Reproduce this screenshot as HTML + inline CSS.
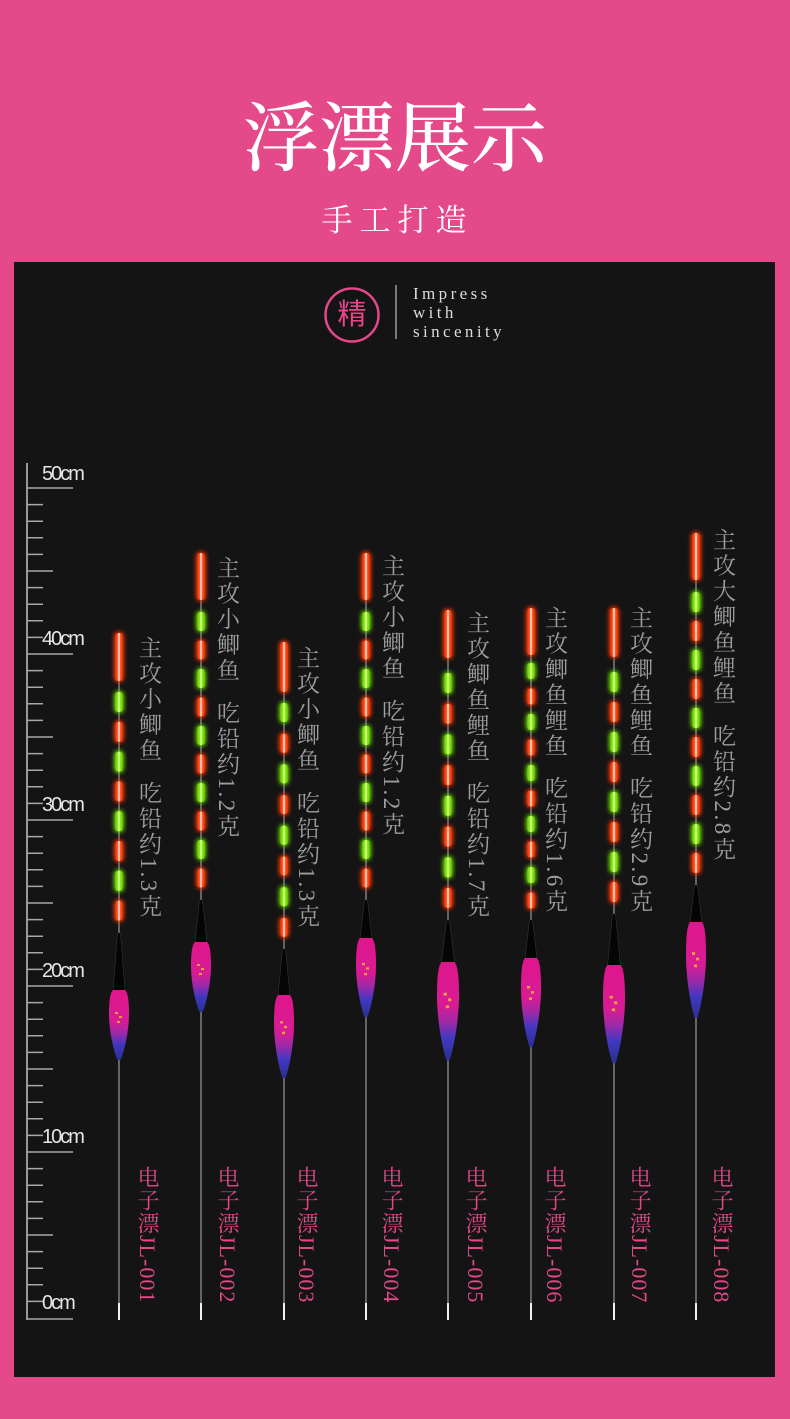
<!DOCTYPE html>
<html><head><meta charset="utf-8">
<style>
html,body{margin:0;padding:0;}
body{width:790px;height:1419px;background:#e44a89;position:relative;overflow:hidden;}
.panel{position:absolute;left:14px;top:262px;width:761px;height:1115px;background:#141414;}
.title{position:absolute;left:0;top:102px;width:790px;text-align:center;font-family:"Liberation Serif","Noto Serif CJK SC",serif;font-size:76px;line-height:76px;color:#fff;font-weight:500;}
.sub{position:absolute;left:0;top:205px;width:790px;text-align:center;font-family:"Liberation Serif","Noto Serif CJK SC",serif;font-size:31px;line-height:31px;color:#fff;letter-spacing:7px;padding-left:5px;box-sizing:border-box;}
.jing{position:absolute;left:325px;top:288px;width:54px;height:54px;text-align:center;font-family:"Liberation Sans","Noto Sans CJK SC",sans-serif;font-size:29px;line-height:54px;color:#e4478a;}
.eng{position:absolute;left:413px;top:284px;font-family:"Liberation Serif",serif;font-size:17px;line-height:19px;letter-spacing:3.4px;color:#dcdcdc;}
.t{position:absolute;writing-mode:vertical-rl;text-orientation:mixed;font-family:"Liberation Serif","Noto Serif CJK SC",serif;font-size:23px;letter-spacing:2.5px;color:#9d9d9d;line-height:24px;width:24px;white-space:nowrap;}
.t .g{margin-inline-start:17px;}
.l{position:absolute;writing-mode:vertical-rl;text-orientation:mixed;font-family:"Liberation Serif","Noto Serif CJK SC",serif;font-size:22px;letter-spacing:1px;color:#e4478a;line-height:24px;width:24px;white-space:nowrap;top:1166px;}
</style></head>
<body>
<div class="title">浮漂展示</div>
<div class="sub">手工打造</div>
<div class="panel"></div>

<svg width="790" height="1419" style="position:absolute;left:0;top:0" xmlns="http://www.w3.org/2000/svg">
<defs>
<filter id="glow" x="-300%" y="-20%" width="700%" height="140%">
<feGaussianBlur in="SourceGraphic" stdDeviation="2.6" result="b"/>
<feMerge><feMergeNode in="b"/><feMergeNode in="b"/><feMergeNode in="SourceGraphic"/></feMerge>
</filter>
<linearGradient id="bg" x1="0" y1="0" x2="0" y2="1">
<stop offset="0" stop-color="#e0168c"/>
<stop offset="0.45" stop-color="#d81b94"/>
<stop offset="0.62" stop-color="#9a2aa8"/>
<stop offset="0.78" stop-color="#4038c0"/>
<stop offset="1" stop-color="#2a3090"/>
</linearGradient>
<g id="body">
<path d="M-6,0 C-9,3 -10,11 -10,24 C-10,42 -5,62 -1.5,70 L1.5,70 C5,62 10,42 10,24 C10,11 9,3 6,0 Z" fill="url(#bg)"/>
<rect x="-4" y="22" width="3" height="2" fill="#f0a040"/>
<rect x="0" y="26" width="3" height="2" fill="#f0a040"/>
<rect x="-2" y="31" width="3" height="2" fill="#f0a040"/>
</g>
<g id="a1r"><rect x="-3.5" y="633" width="7" height="48" rx="2.5"/><rect x="-3.5" y="721.8" width="7" height="20" rx="2.5"/><rect x="-3.5" y="781.4" width="7" height="20" rx="2.5"/><rect x="-3.5" y="841" width="7" height="20" rx="2.5"/><rect x="-3.5" y="900.6" width="7" height="20" rx="2.5"/></g>
<g id="a1g"><rect x="-3.5" y="692" width="7" height="20" rx="2.5"/><rect x="-3.5" y="751.6" width="7" height="20" rx="2.5"/><rect x="-3.5" y="811.2" width="7" height="20" rx="2.5"/><rect x="-3.5" y="870.8" width="7" height="20" rx="2.5"/></g>
<g id="a2r"><rect x="-3.5" y="553" width="7" height="47" rx="2.5"/><rect x="-3.5" y="640.5" width="7" height="19" rx="2.5"/><rect x="-3.5" y="697.5" width="7" height="19" rx="2.5"/><rect x="-3.5" y="754.5" width="7" height="19" rx="2.5"/><rect x="-3.5" y="811.5" width="7" height="19" rx="2.5"/><rect x="-3.5" y="868.5" width="7" height="19" rx="2.5"/></g>
<g id="a2g"><rect x="-3.5" y="612" width="7" height="19" rx="2.5"/><rect x="-3.5" y="669" width="7" height="19" rx="2.5"/><rect x="-3.5" y="726" width="7" height="19" rx="2.5"/><rect x="-3.5" y="783" width="7" height="19" rx="2.5"/><rect x="-3.5" y="840" width="7" height="19" rx="2.5"/></g>
<g id="a3r"><rect x="-3.5" y="642" width="7" height="50" rx="2.5"/><rect x="-3.5" y="733.7" width="7" height="19" rx="2.5"/><rect x="-3.5" y="795.1" width="7" height="19" rx="2.5"/><rect x="-3.5" y="856.5" width="7" height="19" rx="2.5"/><rect x="-3.5" y="917.9" width="7" height="19" rx="2.5"/></g>
<g id="a3g"><rect x="-3.5" y="703" width="7" height="19" rx="2.5"/><rect x="-3.5" y="764.4" width="7" height="19" rx="2.5"/><rect x="-3.5" y="825.8" width="7" height="19" rx="2.5"/><rect x="-3.5" y="887.2" width="7" height="19" rx="2.5"/></g>
<g id="a5r"><rect x="-3.5" y="610" width="7" height="48" rx="2.5"/><rect x="-3.5" y="703.7" width="7" height="20" rx="2.5"/><rect x="-3.5" y="765.1" width="7" height="20" rx="2.5"/><rect x="-3.5" y="826.5" width="7" height="20" rx="2.5"/><rect x="-3.5" y="887.9" width="7" height="20" rx="2.5"/></g>
<g id="a5g"><rect x="-3.5" y="673" width="7" height="20" rx="2.5"/><rect x="-3.5" y="734.4" width="7" height="20" rx="2.5"/><rect x="-3.5" y="795.8" width="7" height="20" rx="2.5"/><rect x="-3.5" y="857.2" width="7" height="20" rx="2.5"/></g>
<g id="a6r"><rect x="-3.5" y="608" width="7" height="47" rx="2.5"/><rect x="-3.5" y="688.5" width="7" height="16" rx="2.5"/><rect x="-3.5" y="739.5" width="7" height="16" rx="2.5"/><rect x="-3.5" y="790.5" width="7" height="16" rx="2.5"/><rect x="-3.5" y="841.5" width="7" height="16" rx="2.5"/><rect x="-3.5" y="892.5" width="7" height="16" rx="2.5"/></g>
<g id="a6g"><rect x="-3.5" y="663" width="7" height="16" rx="2.5"/><rect x="-3.5" y="714" width="7" height="16" rx="2.5"/><rect x="-3.5" y="765" width="7" height="16" rx="2.5"/><rect x="-3.5" y="816" width="7" height="16" rx="2.5"/><rect x="-3.5" y="867" width="7" height="16" rx="2.5"/></g>
<g id="a7r"><rect x="-3.5" y="608" width="7" height="49" rx="2.5"/><rect x="-3.5" y="702" width="7" height="20" rx="2.5"/><rect x="-3.5" y="762" width="7" height="20" rx="2.5"/><rect x="-3.5" y="822" width="7" height="20" rx="2.5"/><rect x="-3.5" y="882" width="7" height="20" rx="2.5"/></g>
<g id="a7g"><rect x="-3.5" y="672" width="7" height="20" rx="2.5"/><rect x="-3.5" y="732" width="7" height="20" rx="2.5"/><rect x="-3.5" y="792" width="7" height="20" rx="2.5"/><rect x="-3.5" y="852" width="7" height="20" rx="2.5"/></g>
<g id="a8r"><rect x="-3.5" y="533" width="7" height="47" rx="2.5"/><rect x="-3.5" y="621" width="7" height="20" rx="2.5"/><rect x="-3.5" y="679" width="7" height="20" rx="2.5"/><rect x="-3.5" y="737" width="7" height="20" rx="2.5"/><rect x="-3.5" y="795" width="7" height="20" rx="2.5"/><rect x="-3.5" y="853" width="7" height="20" rx="2.5"/></g>
<g id="a8g"><rect x="-3.5" y="592" width="7" height="20" rx="2.5"/><rect x="-3.5" y="650" width="7" height="20" rx="2.5"/><rect x="-3.5" y="708" width="7" height="20" rx="2.5"/><rect x="-3.5" y="766" width="7" height="20" rx="2.5"/><rect x="-3.5" y="824" width="7" height="20" rx="2.5"/></g>
</defs>

<!-- badge -->
<circle cx="352" cy="315" r="26.5" fill="none" stroke="#e4478a" stroke-width="2.5"/>
<line x1="396" y1="285" x2="396" y2="339" stroke="#bbbbbb" stroke-width="1.2"/>

<!-- ruler -->
<line x1="27" y1="463" x2="27" y2="1320" stroke="#c4c4c4" stroke-width="1.5"/>
<path stroke="#a8a8a8" stroke-width="1.5" fill="none" d="M27,488H73M27,504.6H43M27,521.2H43M27,537.8H43M27,554.4H43M27,571H53M27,587.6H43M27,604.2H43M27,620.8H43M27,637.4H43M27,654H73M27,670.6H43M27,687.2H43M27,703.8H43M27,720.4H43M27,737H53M27,753.6H43M27,770.2H43M27,786.8H43M27,803.4H43M27,820H73M27,836.6H43M27,853.2H43M27,869.8H43M27,886.4H43M27,903H53M27,919.6H43M27,936.2H43M27,952.8H43M27,969.4H43M27,986H73M27,1002.6H43M27,1019.2H43M27,1035.8H43M27,1052.4H43M27,1069H53M27,1085.6H43M27,1102.2H43M27,1118.8H43M27,1135.4H43M27,1152H73M27,1168.6H43M27,1185.2H43M27,1201.8H43M27,1218.4H43M27,1235H53M27,1251.6H43M27,1268.2H43M27,1284.8H43M27,1301.4H43M27,1319H73"/>
<g font-family="Liberation Sans, sans-serif" font-size="20" letter-spacing="-2" fill="#e6e6e6">
<text x="42" y="480">50cm</text>
<text x="42" y="645">40cm</text>
<text x="42" y="811">30cm</text>
<text x="42" y="977">20cm</text>
<text x="42" y="1143">10cm</text>
<text x="42" y="1309">0cm</text>
</g>

<!-- float 1 -->
<g transform="translate(119,0)">
<line x1="0" y1="633" x2="0" y2="1320" stroke="#8f8f8f" stroke-width="1.3"/>
<use href="#a1r" fill="#ff3c10" filter="url(#glow)"/><use href="#a1g" fill="#72e010" filter="url(#glow)"/>
<use href="#a1r" fill="#ffc2a8" transform="scale(0.35,1)"/><use href="#a1g" fill="#d2ff70" transform="scale(0.35,1)"/>
<path d="M-1.5,933 L1.5,933 L6,991 L-6,991 Z" fill="#050505" stroke="#333" stroke-width="0.6"/>
<use href="#body" transform="translate(0,990)"/>
<line x1="0" y1="1303" x2="0" y2="1320" stroke="#f0f0f0" stroke-width="2"/>
</g>
<!-- float 2 -->
<g transform="translate(201,0)">
<line x1="0" y1="553" x2="0" y2="1320" stroke="#8f8f8f" stroke-width="1.3"/>
<use href="#a2r" fill="#ff3c10" filter="url(#glow)"/><use href="#a2g" fill="#72e010" filter="url(#glow)"/>
<use href="#a2r" fill="#ffc2a8" transform="scale(0.35,1)"/><use href="#a2g" fill="#d2ff70" transform="scale(0.35,1)"/>
<path d="M-1.5,900 L1.5,900 L6,943 L-6,943 Z" fill="#050505" stroke="#333" stroke-width="0.6"/>
<use href="#body" transform="translate(0,942)"/>
<line x1="0" y1="1303" x2="0" y2="1320" stroke="#f0f0f0" stroke-width="2"/>
</g>
<!-- float 3 -->
<g transform="translate(284,0)">
<line x1="0" y1="642" x2="0" y2="1320" stroke="#8f8f8f" stroke-width="1.3"/>
<use href="#a3r" fill="#ff3c10" filter="url(#glow)"/><use href="#a3g" fill="#72e010" filter="url(#glow)"/>
<use href="#a3r" fill="#ffc2a8" transform="scale(0.35,1)"/><use href="#a3g" fill="#d2ff70" transform="scale(0.35,1)"/>
<path d="M-1.5,949 L1.5,949 L6,996 L-6,996 Z" fill="#050505" stroke="#333" stroke-width="0.6"/>
<use href="#body" transform="translate(0,995) scale(1,1.186)"/>
<line x1="0" y1="1303" x2="0" y2="1320" stroke="#f0f0f0" stroke-width="2"/>
</g>
<!-- float 4 -->
<g transform="translate(366,0)">
<line x1="0" y1="553" x2="0" y2="1320" stroke="#8f8f8f" stroke-width="1.3"/>
<use href="#a2r" fill="#ff3c10" filter="url(#glow)"/><use href="#a2g" fill="#72e010" filter="url(#glow)"/>
<use href="#a2r" fill="#ffc2a8" transform="scale(0.35,1)"/><use href="#a2g" fill="#d2ff70" transform="scale(0.35,1)"/>
<path d="M-1.5,900 L1.5,900 L6,939 L-6,939 Z" fill="#050505" stroke="#333" stroke-width="0.6"/>
<use href="#body" transform="translate(0,938) scale(1,1.129)"/>
<line x1="0" y1="1303" x2="0" y2="1320" stroke="#f0f0f0" stroke-width="2"/>
</g>
<!-- float 5 -->
<g transform="translate(448,0)">
<line x1="0" y1="610" x2="0" y2="1320" stroke="#8f8f8f" stroke-width="1.3"/>
<use href="#a5r" fill="#ff3c10" filter="url(#glow)"/><use href="#a5g" fill="#72e010" filter="url(#glow)"/>
<use href="#a5r" fill="#ffc2a8" transform="scale(0.35,1)"/><use href="#a5g" fill="#d2ff70" transform="scale(0.35,1)"/>
<path d="M-1.5,920 L1.5,920 L6.5,963 L-6.5,963 Z" fill="#050505" stroke="#333" stroke-width="0.6"/>
<use href="#body" transform="translate(0,962) scale(1.1,1.4)"/>
<line x1="0" y1="1303" x2="0" y2="1320" stroke="#f0f0f0" stroke-width="2"/>
</g>
<!-- float 6 -->
<g transform="translate(531,0)">
<line x1="0" y1="608" x2="0" y2="1320" stroke="#8f8f8f" stroke-width="1.3"/>
<use href="#a6r" fill="#ff3c10" filter="url(#glow)"/><use href="#a6g" fill="#72e010" filter="url(#glow)"/>
<use href="#a6r" fill="#ffc2a8" transform="scale(0.35,1)"/><use href="#a6g" fill="#d2ff70" transform="scale(0.35,1)"/>
<path d="M-1.5,920 L1.5,920 L6,959 L-6,959 Z" fill="#050505" stroke="#333" stroke-width="0.6"/>
<use href="#body" transform="translate(0,958) scale(1,1.271)"/>
<line x1="0" y1="1303" x2="0" y2="1320" stroke="#f0f0f0" stroke-width="2"/>
</g>
<!-- float 7 -->
<g transform="translate(614,0)">
<line x1="0" y1="608" x2="0" y2="1320" stroke="#8f8f8f" stroke-width="1.3"/>
<use href="#a7r" fill="#ff3c10" filter="url(#glow)"/><use href="#a7g" fill="#72e010" filter="url(#glow)"/>
<use href="#a7r" fill="#ffc2a8" transform="scale(0.35,1)"/><use href="#a7g" fill="#d2ff70" transform="scale(0.35,1)"/>
<path d="M-1.5,914 L1.5,914 L6.5,966 L-6.5,966 Z" fill="#050505" stroke="#333" stroke-width="0.6"/>
<use href="#body" transform="translate(0,965) scale(1.1,1.4)"/>
<line x1="0" y1="1303" x2="0" y2="1320" stroke="#f0f0f0" stroke-width="2"/>
</g>
<!-- float 8 -->
<g transform="translate(696,0)">
<line x1="0" y1="533" x2="0" y2="1320" stroke="#8f8f8f" stroke-width="1.3"/>
<use href="#a8r" fill="#ff3c10" filter="url(#glow)"/><use href="#a8g" fill="#72e010" filter="url(#glow)"/>
<use href="#a8r" fill="#ffc2a8" transform="scale(0.35,1)"/><use href="#a8g" fill="#d2ff70" transform="scale(0.35,1)"/>
<path d="M-1.5,885 L1.5,885 L6,923 L-6,923 Z" fill="#050505" stroke="#333" stroke-width="0.6"/>
<use href="#body" transform="translate(0,922) scale(1,1.371)"/>
<line x1="0" y1="1303" x2="0" y2="1320" stroke="#f0f0f0" stroke-width="2"/>
</g>
</svg>

<div class="jing">精</div>
<div class="eng">Impress<br>with<br>sincenity</div>

<div class="t" style="left:136px;top:636px">主攻小鲫鱼<span class="g">吃铅约1.3克</span></div>
<div class="t" style="left:214px;top:556px">主攻小鲫鱼<span class="g">吃铅约1.2克</span></div>
<div class="t" style="left:294px;top:646px">主攻小鲫鱼<span class="g">吃铅约1.3克</span></div>
<div class="t" style="left:379px;top:554px">主攻小鲫鱼<span class="g">吃铅约1.2克</span></div>
<div class="t" style="left:464px;top:611px">主攻鲫鱼鲤鱼<span class="g">吃铅约1.7克</span></div>
<div class="t" style="left:542px;top:606px">主攻鲫鱼鲤鱼<span class="g">吃铅约1.6克</span></div>
<div class="t" style="left:627px;top:606px">主攻鲫鱼鲤鱼<span class="g">吃铅约2.9克</span></div>
<div class="t" style="left:710px;top:528px">主攻大鲫鱼鲤鱼<span class="g">吃铅约2.8克</span></div>

<div class="l" style="left:135px">电子漂JL-001</div>
<div class="l" style="left:215px">电子漂JL-002</div>
<div class="l" style="left:294px">电子漂JL-003</div>
<div class="l" style="left:379px">电子漂JL-004</div>
<div class="l" style="left:463px">电子漂JL-005</div>
<div class="l" style="left:542px">电子漂JL-006</div>
<div class="l" style="left:627px">电子漂JL-007</div>
<div class="l" style="left:709px">电子漂JL-008</div>
</body></html>
